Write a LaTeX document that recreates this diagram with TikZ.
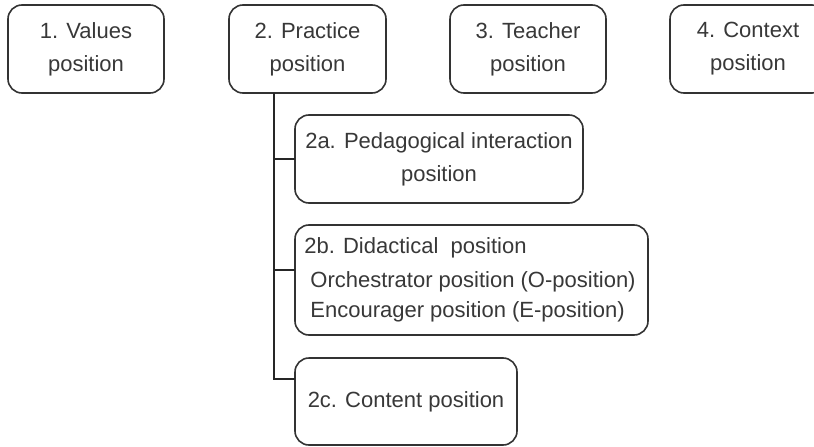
\documentclass[tikz,border=0pt]{standalone}
\usepackage{fontspec}
\setmainfont{Liberation Sans}
\begin{document}
\begin{tikzpicture}[x=1pt,y=-1pt,
  posbox/.style={draw=black!80, line width=1.6pt, rounded corners=14pt, fill=white,
    text=black!78, font=\fontsize{22}{33}\selectfont, inner sep=0pt, outer sep=0pt},
  conn/.style={draw=black!85, line width=1.6pt}]
\useasboundingbox (0,0) rectangle (814,447);
\clip (0,0) rectangle (814,447);
\node[posbox, minimum width=156pt, minimum height=88pt, align=center] (v) at (86,49) {\raisebox{-3pt}{1. Values}\\\raisebox{-3pt}{position}};
\node[posbox, minimum width=157pt, minimum height=88pt, align=center] (p) at (307.5,49) {\raisebox{-3pt}{2. Practice}\\\raisebox{-3pt}{position}};
\node[posbox, minimum width=156pt, minimum height=88pt, align=center] (t) at (528,49) {\raisebox{-3pt}{3. Teacher}\\\raisebox{-3pt}{position}};
\node[posbox, minimum width=156pt, minimum height=88pt, align=center] (c) at (748,49) {\raisebox{-3pt}{4. Context}\\\raisebox{-3pt}{position}};
\node[posbox, minimum width=288pt, minimum height=88pt, align=center] (pa) at (439,159) {2a. Pedagogical interaction\\position};
\node[posbox, minimum width=353pt, minimum height=110pt, align=left] (pb) at (471.5,280)
  {\hspace*{-3pt}2b. Didactical\ \ position\\[1pt]\hspace*{3pt}Orchestrator position (O-position)\\[-3pt]\hspace*{3pt}Encourager position (E-position)};
\node[posbox, minimum width=222pt, minimum height=87pt, align=center] (pc) at (406,401.5) {2c. Content position};
\coordinate (trunk) at (274,0);
\coordinate (jb) at (0,270);
\coordinate (jc) at (0,379);
\draw[conn] (p.south -| trunk) |- (pc.west |- jc);
\draw[conn] (trunk |- pa.west) -- (pa.west);
\draw[conn] (trunk |- jb) -- (pb.west |- jb);
\end{tikzpicture}
\end{document}
